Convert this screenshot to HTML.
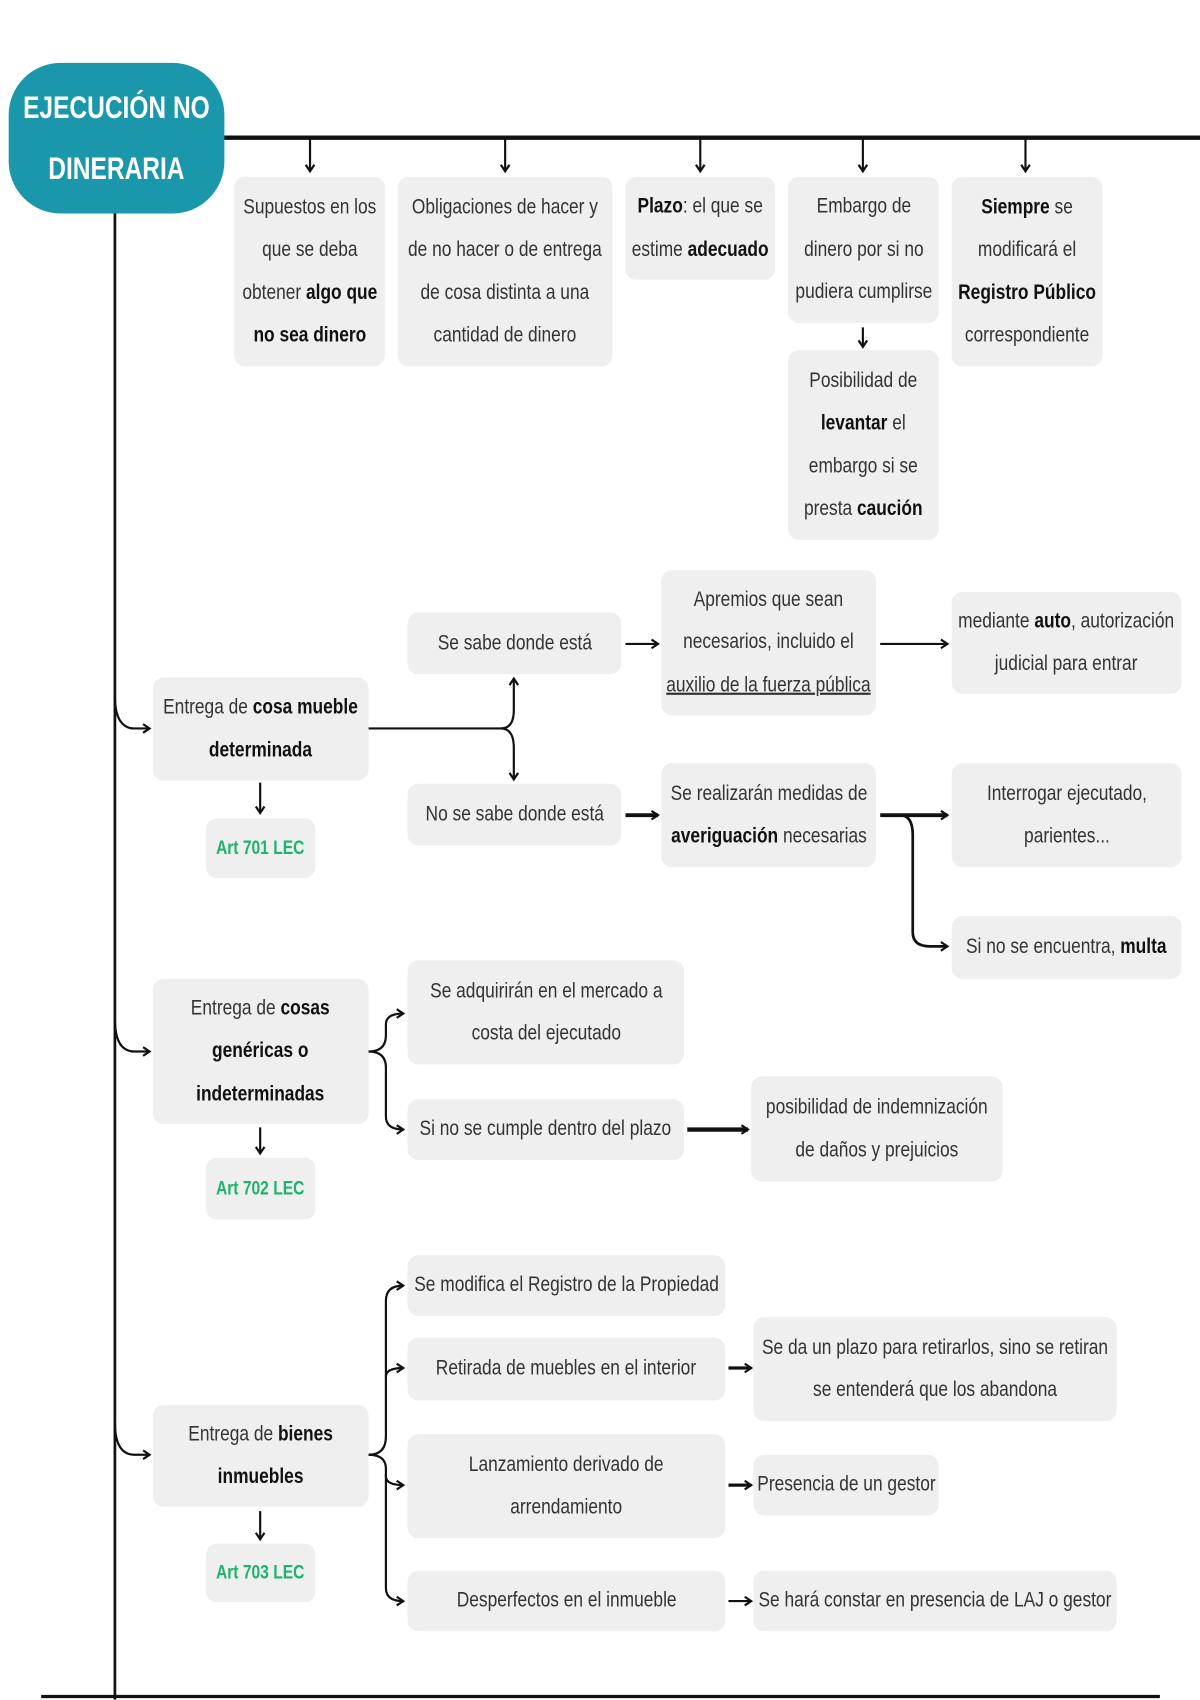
<!DOCTYPE html>
<html><head><meta charset="utf-8"><style>
html,body{margin:0;padding:0;background:#fff;}
body{width:1200px;height:1700px;overflow:hidden;position:relative;}
#w{position:absolute;left:0;top:0;width:1107px;height:1568px;transform:scale(1.08401);transform-origin:0 0;}
.b{position:absolute;background:#efefef;border-radius:10px;display:flex;align-items:center;justify-content:center;text-align:center;
font-family:"Liberation Sans",sans-serif;font-size:20px;line-height:39.5px;color:#333;box-sizing:border-box;}
.b>span{display:inline-block;white-space:nowrap;transform:scaleX(0.8);}
.g{color:#1db36b;font-weight:bold;font-size:18px;}
b{color:#111;}
#t{position:absolute;left:8px;top:58px;width:199px;height:139px;background:#1a97ab;border-radius:48px;color:#fff;font-family:"Liberation Sans",sans-serif;font-weight:bold;font-size:29px;line-height:56px;text-align:center;display:flex;align-items:center;justify-content:center;}
#t>span{display:inline-block;white-space:nowrap;transform:scaleX(0.78);}
svg{position:absolute;left:0;top:0;}
</style></head><body><div id="w">
<svg width="1107" height="1568" viewBox="0 0 1107 1568">
<defs><marker id="a" markerWidth="10" markerHeight="10" refX="8" refY="5" orient="auto" markerUnits="userSpaceOnUse"><polyline points="2,1 8,5 2,9" fill="none" stroke="#111" stroke-width="2"/></marker></defs>
<g fill="none" stroke="#111" stroke-width="2">
<line x1="200" y1="127" x2="1107" y2="127" stroke-width="4"/>
<line x1="106" y1="190" x2="106" y2="1568" stroke-width="2.5"/>
<line x1="38" y1="1565" x2="1070" y2="1565" stroke-width="3"/>
<g marker-end="url(#a)">
<path d="M286 127 V158"/><path d="M466 127 V158"/><path d="M646 127 V158"/><path d="M796 127 V158"/><path d="M946 127 V158"/>
<path d="M796 302 V320"/>
<path d="M106 642 Q106 672 124 672 H138"/>
<path d="M106 940 Q106 970 124 970 H138"/>
<path d="M106 1312 Q106 1342 124 1342 H138"/>
<path d="M240 722 V750"/><path d="M240 1040 V1064"/><path d="M240 1394 V1420"/>
<path d="M340 672 H462 Q474 672 474 655 V626"/>
<path d="M462 672 Q474 672 474 690 V719"/>
<path d="M577 594 H607"/>
<path d="M812 594 H874"/>
<path d="M577 752 H607" stroke-width="3.5"/>
<path d="M812 752 H874" stroke-width="3.5"/>
<path d="M830 752 Q842 752 842 770 V860 Q842 873 858 873 H874" stroke-width="2.5"/>
<path d="M340 970 Q356 970 356 955 V945 Q356 935 372 935"/>
<path d="M340 970 Q356 970 356 985 V1030 Q356 1042 372 1042"/>
<path d="M634 1042 H690" stroke-width="4"/>
<path d="M340 1342 Q356 1342 356 1325 V1200 Q356 1186 372 1186"/>
<path d="M356 1270 Q356 1262 372 1262"/>
<path d="M340 1342 Q356 1342 356 1355 V1362 Q356 1370 372 1370"/>
<path d="M356 1360 V1465 Q356 1477 372 1477"/>
<path d="M672 1262 H693" stroke-width="3"/>
<path d="M672 1370 H693" stroke-width="3"/>
<path d="M672 1477 H693"/>
</g></g></svg>
<div id="t"><span>EJECUCIÓN NO<br>DINERARIA</span></div>
<div class="b" style="left:216px;top:163px;width:139px;height:175px"><span>Supuestos en los<br>que se deba<br>obtener <b>algo que</b><br><b>no sea dinero</b></span></div>
<div class="b" style="left:367px;top:163px;width:198px;height:175px"><span>Obligaciones de hacer y<br>de no hacer o de entrega<br>de cosa distinta a una<br>cantidad de dinero</span></div>
<div class="b" style="left:577px;top:163px;width:138px;height:95px"><span><b>Plazo</b>: el que se<br>estime <b>adecuado</b></span></div>
<div class="b" style="left:727px;top:163px;width:139px;height:135px"><span>Embargo de<br>dinero por si no<br>pudiera cumplirse</span></div>
<div class="b" style="left:878px;top:163px;width:139px;height:175px"><span><b>Siempre</b> se<br>modificará el<br><b>Registro Público</b><br>correspondiente</span></div>
<div class="b" style="left:727px;top:323px;width:139px;height:175px"><span>Posibilidad de<br><b>levantar</b> el<br>embargo si se<br>presta <b>caución</b></span></div>
<div class="b" style="left:141px;top:625px;width:199px;height:95px"><span>Entrega de <b>cosa mueble</b><br><b>determinada</b></span></div>
<div class="b g" style="left:190px;top:755px;width:101px;height:55px"><span>Art 701 LEC</span></div>
<div class="b" style="left:376px;top:565px;width:197px;height:57px"><span>Se sabe donde está</span></div>
<div class="b" style="left:376px;top:723px;width:197px;height:57px"><span>No se sabe donde está</span></div>
<div class="b" style="left:610px;top:526px;width:198px;height:134px"><span>Apremios que sean<br>necesarios, incluido el<br><u>auxilio de la fuerza pública</u></span></div>
<div class="b" style="left:878px;top:546px;width:212px;height:94px"><span>mediante <b>auto</b>, autorización<br>judicial para entrar</span></div>
<div class="b" style="left:610px;top:704px;width:198px;height:96px"><span>Se realizarán medidas de<br><b>averiguación</b> necesarias</span></div>
<div class="b" style="left:878px;top:704px;width:212px;height:96px"><span>Interrogar ejecutado,<br>parientes...</span></div>
<div class="b" style="left:878px;top:845px;width:212px;height:58px"><span>Si no se encuentra, <b>multa</b></span></div>
<div class="b" style="left:141px;top:903px;width:199px;height:134px"><span>Entrega de <b>cosas</b><br><b>genéricas o</b><br><b>indeterminadas</b></span></div>
<div class="b g" style="left:190px;top:1068px;width:101px;height:57px"><span>Art 702 LEC</span></div>
<div class="b" style="left:376px;top:886px;width:255px;height:96px"><span>Se adquirirán en el mercado a<br>costa del ejecutado</span></div>
<div class="b" style="left:376px;top:1014px;width:255px;height:56px"><span>Si no se cumple dentro del plazo</span></div>
<div class="b" style="left:693px;top:993px;width:232px;height:97px"><span>posibilidad de indemnización<br>de daños y prejuicios</span></div>
<div class="b" style="left:141px;top:1296px;width:199px;height:94px"><span>Entrega de <b>bienes</b><br><b>inmuebles</b></span></div>
<div class="b g" style="left:190px;top:1424px;width:101px;height:54px"><span>Art 703 LEC</span></div>
<div class="b" style="left:376px;top:1158px;width:293px;height:56px"><span>Se modifica el Registro de la Propiedad</span></div>
<div class="b" style="left:376px;top:1234px;width:293px;height:58px"><span>Retirada de muebles en el interior</span></div>
<div class="b" style="left:376px;top:1323px;width:293px;height:96px"><span>Lanzamiento derivado de<br>arrendamiento</span></div>
<div class="b" style="left:376px;top:1449px;width:293px;height:56px"><span>Desperfectos en el inmueble</span></div>
<div class="b" style="left:695px;top:1215px;width:335px;height:96px"><span>Se da un plazo para retirarlos, sino se retiran<br>se entenderá que los abandona</span></div>
<div class="b" style="left:695px;top:1342px;width:171px;height:56px"><span>Presencia de un gestor</span></div>
<div class="b" style="left:695px;top:1449px;width:335px;height:56px"><span>Se hará constar en presencia de LAJ o gestor</span></div>
</div></body></html>
